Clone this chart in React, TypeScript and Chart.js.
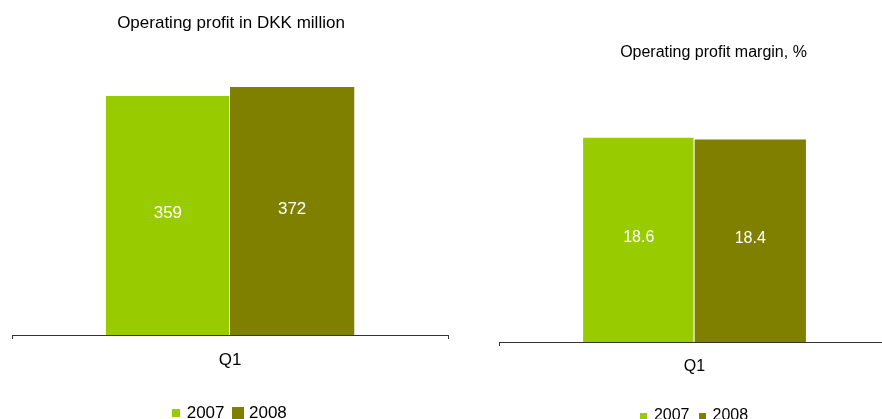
import React, { useEffect, useRef } from 'react';
import { Chart, registerables } from 'chart.js';

Chart.register(...registerables);

// Categories and series
const categories = ['Q1'];
const seriesLabels = ['2007', '2008'];

// Operating profit, DKK million
const profit2007 = [359];
const profit2008 = [372];
const profitAxisMax = 450;

// Operating profit margin, %
const margin2007 = [18.6];
const margin2008 = [18.4];
const marginAxisMax = 25;

const profitTitle = 'Operating profit in DKK million';
const marginTitle = 'Operating profit margin, %';

const GREEN = '#99cc00';
const OLIVE = '#808000';
const AXIS = '#333333';
const FONT = "'Liberation Sans', Arial, Helvetica, sans-serif";

function squareIcon(size: number, color: string): HTMLCanvasElement {
  const c = document.createElement('canvas');
  c.width = size;
  c.height = size;
  const ctx = c.getContext('2d')!;
  ctx.fillStyle = color;
  ctx.fillRect(0, 0, size, size);
  return c;
}

// Panel heading drawn at a fixed spot above the plot
const panelTitle = {
  id: 'panelTitle',
  afterDraw(chart: any, _args: any, opts: any) {
    if (!opts || !opts.text) return;
    const { ctx } = chart;
    ctx.save();
    ctx.font = `${opts.size}px ${FONT}`;
    ctx.fillStyle = '#000';
    ctx.textAlign = 'center';
    ctx.textBaseline = 'middle';
    ctx.fillText(opts.text, opts.x, opts.y);
    ctx.restore();
  },
};

// White value labels in the middle of each bar
const barValues = {
  id: 'barValues',
  afterDatasetsDraw(chart: any, _args: any, opts: any) {
    const { ctx } = chart;
    ctx.save();
    ctx.font = `${opts.size}px ${FONT}`;
    ctx.fillStyle = '#ffffff';
    ctx.textAlign = 'center';
    ctx.textBaseline = 'middle';
    chart.data.datasets.forEach((ds: any, di: number) => {
      const meta = chart.getDatasetMeta(di);
      meta.data.forEach((bar: any, i: number) => {
        const v = Number(ds.data[i]);
        const { x, y, base } = bar.getProps(['x', 'y', 'base'], true);
        ctx.fillText(v.toFixed(opts.decimals), x, (y + base) / 2 + opts.shift);
      });
    });
    ctx.restore();
  },
};

interface PanelSpec {
  a: number[];
  b: number[];
  max: number;
  fs: number;
  padding: { top: number; left: number; right: number; bottom: number };
  tickPad: number;
  axisH: number;
  legendPad: number;
  icons: [number, number];
  title: { text: string; x: number; y: number; size: number };
  decimals: number;
}

function buildConfig(p: PanelSpec): any {
  const iconA = squareIcon(p.icons[0], GREEN);
  const iconB = squareIcon(p.icons[1], OLIVE);
  return {
    type: 'bar',
    data: {
      labels: categories,
      datasets: [
        {
          label: seriesLabels[0],
          data: p.a,
          backgroundColor: GREEN,
          borderColor: '#ffffff',
          borderWidth: { top: 0, left: 0, bottom: 0, right: 1 },
          borderSkipped: false,
          categoryPercentage: 0.57,
          barPercentage: 1,
        },
        {
          label: seriesLabels[1],
          data: p.b,
          backgroundColor: OLIVE,
          borderWidth: 0,
          categoryPercentage: 0.57,
          barPercentage: 1,
        },
      ],
    },
    options: {
      responsive: false,
      animation: false,
      devicePixelRatio: 1,
      layout: { padding: p.padding },
      scales: {
        x: {
          grid: {
            display: true,
            drawOnChartArea: false,
            drawTicks: true,
            tickLength: 4,
            color: AXIS,
            lineWidth: 1,
          },
          border: { display: true, color: AXIS, width: 1 },
          ticks: {
            color: '#000',
            font: { family: FONT, size: p.fs },
            padding: p.tickPad,
          },
          afterFit: (scale: any) => {
            scale.height = p.axisH;
          },
        },
        y: { display: false, min: 0, max: p.max },
      },
      plugins: {
        title: { display: false },
        tooltip: { enabled: false },
        legend: {
          position: 'bottom',
          labels: {
            usePointStyle: true,
            boxWidth: 5,
            boxHeight: p.fs,
            padding: p.legendPad,
            color: '#000',
            font: { family: FONT, size: p.fs },
            generateLabels: () => [
              { text: seriesLabels[0], pointStyle: iconA, fillStyle: GREEN, strokeStyle: GREEN, lineWidth: 0, hidden: false, datasetIndex: 0 },
              { text: seriesLabels[1], pointStyle: iconB, fillStyle: OLIVE, strokeStyle: OLIVE, lineWidth: 0, hidden: false, datasetIndex: 1 },
            ],
          },
        },
        panelTitle: p.title,
        barValues: { size: p.fs, decimals: p.decimals, shift: -2 },
      },
    },
    plugins: [panelTitle, barValues],
  };
}

export default function App() {
  const leftRef = useRef<HTMLCanvasElement>(null);
  const rightRef = useRef<HTMLCanvasElement>(null);

  useEffect(() => {
    const left = new Chart(
      leftRef.current!,
      buildConfig({
        a: profit2007,
        b: profit2008,
        max: profitAxisMax,
        fs: 17,
        padding: { top: 35, left: 12, right: 12, bottom: 8.5 },
        tickPad: 11,
        axisH: 58.5,
        legendPad: 11,
        icons: [8, 12],
        title: { text: profitTitle, x: 231, y: 23, size: 17 },
        decimals: 0,
      })
    );
    const right = new Chart(
      rightRef.current!,
      buildConfig({
        a: margin2007,
        b: margin2008,
        max: marginAxisMax,
        fs: 16,
        padding: { top: 67, left: 39, right: 10, bottom: 6 },
        tickPad: 11.4,
        axisH: 56,
        legendPad: 10,
        icons: [7, 7],
        title: { text: marginTitle, x: 253.5, y: 53, size: 16 },
        decimals: 1,
      })
    );
    return () => {
      left.destroy();
      right.destroy();
    };
  }, []);

  return (
    <div
      style={{
        position: 'absolute',
        left: 0,
        top: 0,
        width: 882,
        height: 419,
        overflow: 'hidden',
        background: '#ffffff',
      }}
    >
      <canvas ref={leftRef} width={460} height={440} style={{ position: 'absolute', left: 0, top: 0 }} />
      <canvas ref={rightRef} width={440} height={440} style={{ position: 'absolute', left: 460, top: 0 }} />
    </div>
  );
}
